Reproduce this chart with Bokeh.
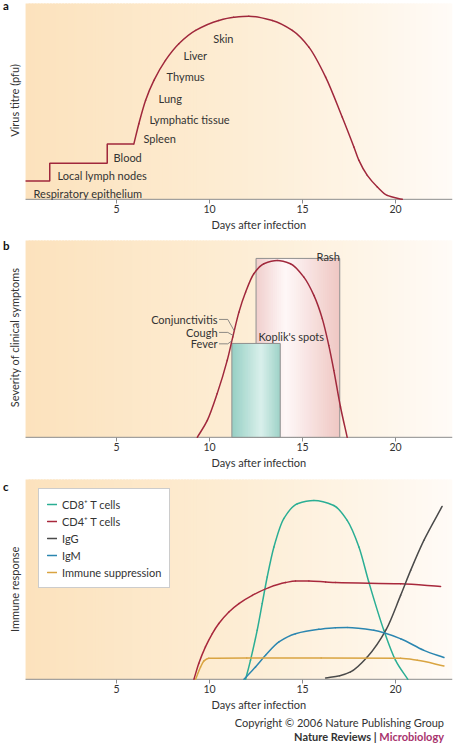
import numpy as np
from bokeh.plotting import figure
from bokeh.layouts import column
from bokeh.models import Range1d, FixedTicker, Legend, LegendItem, Title, Div
from bokeh.core.properties import value
from bokeh.embed import file_html
from bokeh.resources import INLINE

FONT = "Lato"
TEXT = "#333333"
AXIS = "#8c8c8c"
RED = "#a0283c"

# ---------------- data ----------------
tick_days = [5, 10, 15, 20]
x_title = "Days after infection"

# panel a : virus titre
virus_days = [0.11, 1.41, 1.41, 4.50, 4.50, 5.93, 6.20, 6.56, 7.01, 7.63, 8.35, 9.25,
              10.50, 11.30, 12.11, 13.37, 14.45, 15.34, 16.24, 17.13, 17.76, 18.03,
              18.48, 19.02, 19.55, 20.36]
virus_titre = [9.3, 9.3, 18.4, 18.4, 28.2, 28.2, 38.6, 50.5, 60.7, 70.9, 79.4, 86.2,
               91.3, 92.9, 93.5, 91.3, 86.2, 77.7, 62.4, 42.0, 26.7, 19.9,
               12.2, 6.3, 2.0, 0.0]
site_names = ["Respiratory epithelium", "Local lymph nodes", "Blood", "Spleen",
              "Lymphatic tissue", "Lung", "Thymus", "Liver", "Skin"]
site_day = [0.54, 1.83, 4.84, 6.45, 6.77, 7.26, 7.69, 8.60, 10.20]
site_level = [3.1, 12.2, 21.4, 31.1, 40.8, 51.5, 62.8, 73.5, 82.1]

# panel b : clinical symptoms
symptom_days = [9.34, 9.88, 10.41, 10.95, 11.25, 11.58, 11.94, 12.38, 12.92, 13.64,
                14.35, 15.07, 15.61, 16.06, 16.41, 16.68, 17.04, 17.40]
symptom_severity = [0.0, 8.6, 22.2, 39.1, 51.0, 63.6, 73.8, 83.1, 88.2, 89.8,
                    88.2, 81.4, 72.1, 60.3, 46.7, 34.0, 15.4, 0.0]
box_names = ["Rash", "Koplik's spots"]
box_start = [12.5, 11.2]
box_end = [17.0, 13.8]
box_top = [90.9, 47.7]
early_symptoms = ["Conjunctivitis", "Cough", "Fever"]
early_label_level = [59.9, 53.3, 47.5]
early_onset = [11.33, 11.27, 11.20]

# panel c : immune response
response_names = ["CD8\u207a T cells", "CD4\u207a T cells", "IgG", "IgM", "Immune suppression"]
response_colors = ["#2aae94", "#a8283c", "#4a4a4a", "#2b86b0", "#d9a441"]
cd8_days = [11.94, 12.20, 12.56, 12.83, 13.10, 13.46, 13.99, 14.72, 15.61, 16.68,
            17.40, 18.03, 18.56, 19.37, 20.00, 20.66]
cd8_level = [0.0, 9.5, 24.5, 37.9, 51.2, 66.2, 80.4, 87.9, 89.5, 87.0,
             79.5, 66.2, 48.7, 24.5, 9.5, 0.0]
cd4_days = [9.16, 9.42, 9.78, 10.15, 10.50, 11.04, 11.58, 12.30, 13.19, 14.09,
            14.62, 15.34, 16.24, 16.77, 20.27, 22.42]
cd4_level = [0.0, 7.9, 16.2, 22.9, 27.9, 33.7, 37.9, 42.0, 45.9, 48.4,
             49.2, 49.2, 48.7, 48.4, 47.8, 46.5]
igg_days = [16.24, 17.00, 17.58, 18.48, 19.50, 20.27, 20.81, 21.52, 22.50]
igg_level = [0.7, 1.8, 3.7, 11.2, 25.0, 42.0, 54.5, 69.5, 86.5]
igm_days = [11.85, 12.47, 13.01, 13.73, 14.62, 15.88, 16.77, 17.40, 18.83, 20.27,
            21.52, 22.60]
igm_level = [0.0, 6.2, 12.0, 18.7, 22.8, 25.0, 25.8, 25.9, 24.5, 20.3,
             14.5, 10.9]
supp_days = [9.25, 9.52, 9.70, 9.96, 12.00, 16.00, 20.27, 21.17, 22.60]
supp_level = [0.0, 6.2, 9.2, 10.5, 10.7, 10.7, 10.5, 9.5, 6.7]
response_days = [cd8_days, cd4_days, igg_days, igm_days, supp_days]
response_levels = [cd8_level, cd4_level, igg_level, igm_level, supp_level]

copyright_line = "Copyright \u00a9 2006 Nature Publishing Group"
journal_name = "Nature Reviews"
journal_sub = "Microbiology"

# ---------------- helpers ----------------
XL, X0, X1 = -1.237, 0.11, 23.06


def hexcol(rgb):
    return "#%02x%02x%02x" % tuple(int(round(c)) for c in rgb)


def gradient(p, x0, x1, y0, y1, ts, rgbs, n):
    edges = np.linspace(x0, x1, n + 1)
    w = (x1 - x0) / n
    t = (np.arange(n) + 0.5) / n
    rgbs = np.array(rgbs, dtype=float)
    cols = [hexcol([np.interp(tt, ts, rgbs[:, k]) for k in range(3)]) for tt in t]
    p.quad(left=edges[:-1], right=np.minimum(edges[1:] + 0.6 * w, x1),
           bottom=y0, top=y1, fill_color=cols, line_color=None)


def smooth(p, xs, ys, **kw):
    """Draw a smooth (monotone Hermite) curve through the data points with bezier glyphs."""
    x = np.asarray(xs, dtype=float)
    y = np.asarray(ys, dtype=float)
    h = np.diff(x)
    d = np.diff(y) / h
    n = len(x)
    m = np.zeros(n)
    m[0], m[-1] = d[0], d[-1]
    for k in range(1, n - 1):
        if d[k - 1] * d[k] <= 0:
            m[k] = 0.0
        else:
            w1 = 2 * h[k] + h[k - 1]
            w2 = h[k] + 2 * h[k - 1]
            m[k] = (w1 + w2) / (w1 / d[k - 1] + w2 / d[k])
    return p.bezier(x0=x[:-1], y0=y[:-1], x1=x[1:], y1=y[1:],
                    cx0=x[:-1] + h / 3, cy0=y[:-1] + m[:-1] * h / 3,
                    cx1=x[1:] - h / 3, cy1=y[1:] - m[1:] * h / 3,
                    line_cap="round", **kw)


def make_fig(height, ytop, bottom, letter, letter_y, ylabel, ylabel_y):
    p = figure(width=455, height=height, x_range=Range1d(XL, X1),
               y_range=Range1d(-0.6, ytop), output_backend="svg", toolbar_location=None,
               min_border_left=0, min_border_right=3, min_border_top=0,
               min_border_bottom=bottom)
    p.yaxis.visible = False
    p.grid.visible = False
    p.outline_line_color = None
    p.background_fill_color = "white"
    p.border_fill_color = "white"
    ax = p.xaxis[0]
    ax.ticker = FixedTicker(ticks=tick_days)
    ax.axis_line_color = None
    ax.major_tick_line_color = AXIS
    ax.major_tick_in = 1
    ax.major_tick_out = 3
    ax.minor_tick_line_color = None
    ax.major_label_standoff = 1
    ax.major_label_text_font = FONT
    ax.major_label_text_font_size = "10.5px"
    ax.major_label_text_color = TEXT
    gradient(p, X0, X1, 0, 100, [0, 0.5, 0.8, 1.0],
             [(252, 226, 189), (253, 237, 212), (254, 245, 232), (255, 251, 247)], 140)
    p.segment(x0=[X0], y0=[0], x1=[X1], y1=[0], line_color=AXIS, line_width=1)
    p.text([XL + 0.14], [letter_y], text=[letter], text_font=value(FONT),
           text_font_size=value("11.5px"), text_font_style="bold", text_color="#111111",
           text_baseline="middle", text_align="left")
    p.text([-0.5], [ylabel_y], text=[ylabel], angle=np.pi / 2, text_font=value(FONT),
           text_font_size=value("11px"), text_color=TEXT, text_baseline="middle",
           text_align="center")
    p.add_layout(Title(text=x_title, align="left", offset=211, standoff=0,
                       text_font=FONT, text_font_size="11px", text_font_style="normal",
                       text_color=TEXT), "below")
    return p


# ---------------- panel a ----------------
pa = make_fig(232, 101.5, 32, "a", 98.7, "Virus titre (pfu)", 50.5)
step_n = 6
pa.line(virus_days[:step_n], virus_titre[:step_n], line_color=RED, line_width=1.5)
smooth(pa, virus_days[step_n - 1:], virus_titre[step_n - 1:], line_color=RED, line_width=1.5)
pa.text(site_day, site_level, text=site_names, text_font=value(FONT),
        text_font_size=value("11px"), text_color=TEXT, text_baseline="middle",
        text_align="left")

# ---------------- panel b ----------------
pb = make_fig(238, 104.07, 32, "b", 97.7, "Severity of clinical symptoms", 50.8)
rash_i, kop_i = 0, 1
gradient(pb, box_start[rash_i], box_end[rash_i], 0, box_top[rash_i], [0, 0.35, 1.0],
         [(241, 206, 204), (254, 248, 248), (239, 199, 195)], 40)
pb.quad(left=[box_start[rash_i]], right=[box_end[rash_i]], bottom=0, top=[box_top[rash_i]],
        fill_color=None, line_color="#8f8f8f", line_width=1)
gradient(pb, box_start[kop_i], box_end[kop_i], 0, box_top[kop_i], [0, 0.6, 1.0],
         [(150, 207, 196), (217, 240, 235), (158, 210, 200)], 30)
pb.quad(left=[box_start[kop_i]], right=[box_end[kop_i]], bottom=0, top=[box_top[kop_i]],
        fill_color=None, line_color="#8f8f8f", line_width=1)
smooth(pb, symptom_days, symptom_severity, line_color=RED, line_width=1.5)
pb.text([box_end[rash_i]], [box_top[rash_i] + 0.9], text=[box_names[rash_i]],
        text_font=value(FONT), text_font_size=value("11px"), text_color=TEXT,
        text_align="right", text_baseline="alphabetic")
pb.text([box_start[kop_i] + 1.43], [51.3], text=[box_names[kop_i]],
        text_font=value(FONT), text_font_size=value("11px"), text_color=TEXT,
        text_align="left", text_baseline="middle")
lab_right = 10.43
pb.text([lab_right] * 3, early_label_level, text=early_symptoms, text_font=value(FONT),
        text_font_size=value("11px"), text_color=TEXT, text_align="right",
        text_baseline="middle")
onset_level = np.interp(early_onset, symptom_days, symptom_severity)
xs = [[lab_right + 0.08, lab_right + 0.55, d] for d in early_onset]
ys = [[lv, lv, ov] for lv, ov in zip(early_label_level, onset_level)]
pb.multi_line(xs, ys, line_color="#707070", line_width=0.8)

# ---------------- panel c ----------------
pc = make_fig(242, 104.5, 32, "c", 96.7, "Immune response", 45.0)
items = []
for name, col, d, lv in zip(response_names, response_colors, response_days, response_levels):
    r = smooth(pc, d, lv, line_color=col, line_width=1.5)
    items.append(LegendItem(label=name, renderers=[r]))
legend = Legend(items=items, location=(38, 92), margin=0, padding=8, spacing=3,
                glyph_width=10, glyph_height=14, label_height=14, label_standoff=5,
                label_text_font=FONT, label_text_font_size="11px", label_text_color=TEXT,
                border_line_color="#9a9a9a", border_line_width=1,
                background_fill_color="white", background_fill_alpha=1.0)
pc.add_layout(legend)

credit = Div(
    text=('<div style="width:444px;text-align:right;font-family:Lato;font-size:11px;'
          'color:#333333;line-height:14px;padding-top:4px;">' + copyright_line + '<br>'
          '<b>' + journal_name + ' | <span style="color:#a8336e">' + journal_sub +
          '</span></b></div>'),
    width=455, height=32, margin=(0, 0, 0, 0))

layout = column(pa, pb, pc, credit, spacing=0)
open("out.html", "w").write(file_html(layout, INLINE))
